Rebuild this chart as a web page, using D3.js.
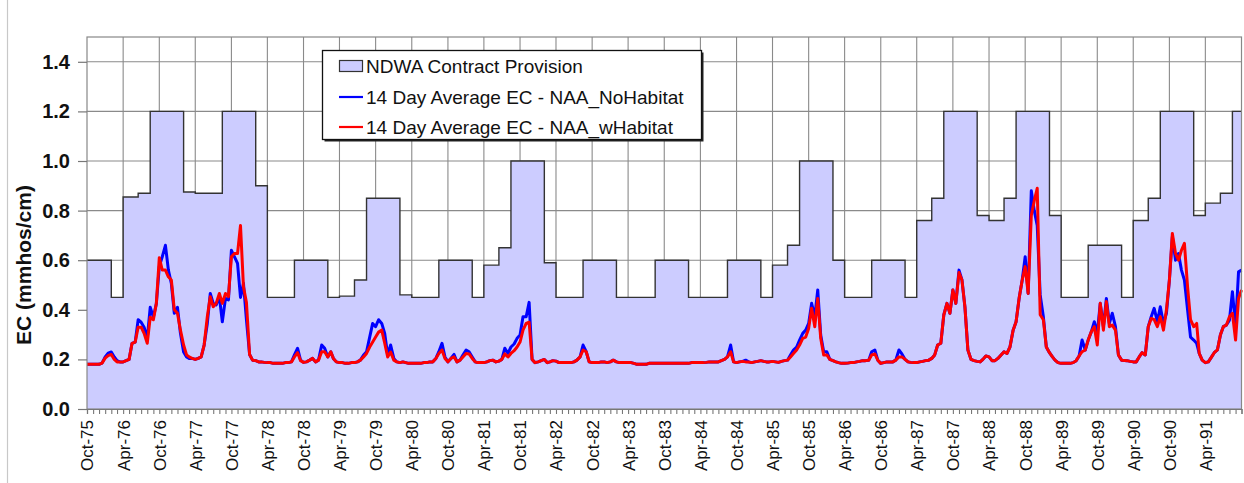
<!DOCTYPE html>
<html>
<head>
<meta charset="utf-8">
<script src="https://cdn.jsdelivr.net/npm/d3@7"></script>
<style>
  html, body { margin: 0; padding: 0; background: #fff; }
  svg { display: block; font-family: "Liberation Sans", Arial, sans-serif; }
</style>
</head>
<body>
<svg id="chart" width="1244" height="483"></svg>
<script>
// ---- Tick labels -------------------------------------------------------
const tickLabels = ["Oct-75","Apr-76","Oct-76","Apr-77","Oct-77","Apr-78","Oct-78","Apr-79",
  "Oct-79","Apr-80","Oct-80","Apr-81","Oct-81","Apr-82","Oct-82","Apr-83","Oct-83","Apr-84",
  "Oct-84","Apr-85","Oct-85","Apr-86","Oct-86","Apr-87","Oct-87","Apr-88","Oct-88","Apr-89",
  "Oct-89","Apr-90","Oct-90","Apr-91"];
const yTicks = [0, 0.2, 0.4, 0.6, 0.8, 1.0, 1.2, 1.4];

// ---- NDWA contract provision (mmhos/cm), per water year ----------------
// periods: Oct 1 - Jan 31, Feb 1 - Mar 31, Apr 1 - Jun 15, Jun 16 - Aug 15, Aug 16 - Sep 30
const periodStarts = [[-1, 9, 1], [0, 1, 1], [0, 3, 1], [0, 5, 16], [0, 7, 16]]; // [year offset, month, day]
const waterYears = [1976,1977,1978,1979,1980,1981,1982,1983,1984,1985,1986,1987,1988,1989,1990,1991];
const contractLimits = [
  [0.60, 0.45, 0.855, 0.87, 1.20],
  [1.20, 0.875, 0.87, 0.87, 1.20],
  [1.20, 0.90, 0.45, 0.45, 0.60],
  [0.60, 0.45, 0.455, 0.52, 0.85],
  [0.85, 0.46, 0.45, 0.45, 0.60],
  [0.60, 0.45, 0.58, 0.65, 1.00],
  [1.00, 0.59, 0.45, 0.45, 0.60],
  [0.60, 0.45, 0.45, 0.45, 0.60],
  [0.60, 0.45, 0.45, 0.45, 0.60],
  [0.60, 0.45, 0.58, 0.66, 1.00],
  [1.00, 0.60, 0.45, 0.45, 0.60],
  [0.60, 0.45, 0.76, 0.85, 1.20],
  [1.20, 0.78, 0.76, 0.85, 1.20],
  [1.20, 0.78, 0.45, 0.45, 0.66],
  [0.66, 0.45, 0.76, 0.85, 1.20],
  [1.20, 0.78, 0.83, 0.87, 1.20]
];

// ---- 14-day average EC, sampled on the 1st and 16th of each month -------
// starting Oct 1, 1975 and ending Oct 1, 1991 (one row per water year)
const ecNoHabitat = [
  0.18,0.18,0.18,0.18,0.18,0.185,0.21,0.225,0.23,0.21,0.195,0.19,0.19,0.195,0.2,0.265,0.27,0.36,0.35,0.33,0.285,0.41,0.37,0.425,
  0.575,0.614,0.66,0.56,0.506,0.386,0.41,0.305,0.23,0.21,0.204,0.204,0.2,0.204,0.21,0.258,0.345,0.466,0.426,0.42,0.453,0.352,0.446,0.44,
  0.64,0.614,0.587,0.45,0.507,0.36,0.22,0.197,0.195,0.19,0.19,0.188,0.187,0.187,0.184,0.184,0.184,0.184,0.187,0.187,0.19,0.218,0.245,0.197,
  0.188,0.19,0.197,0.204,0.19,0.197,0.258,0.245,0.21,0.231,0.204,0.19,0.187,0.187,0.184,0.184,0.187,0.187,0.19,0.197,0.218,0.231,0.29,0.345,
  0.332,0.36,0.345,0.305,0.218,0.258,0.204,0.19,0.187,0.19,0.187,0.184,0.184,0.184,0.184,0.184,0.187,0.187,0.19,0.19,0.204,0.231,0.265,0.21,
  0.19,0.204,0.22,0.19,0.197,0.218,0.238,0.231,0.21,0.19,0.187,0.187,0.187,0.19,0.195,0.197,0.19,0.193,0.2,0.245,0.224,0.25,0.262,0.285,
  0.298,0.372,0.372,0.43,0.2,0.187,0.19,0.195,0.2,0.187,0.19,0.195,0.193,0.187,0.187,0.187,0.187,0.187,0.19,0.197,0.21,0.258,0.231,0.19,
  0.187,0.187,0.187,0.19,0.19,0.187,0.19,0.197,0.19,0.187,0.187,0.187,0.187,0.187,0.184,0.18,0.18,0.18,0.18,0.184,0.184,0.184,0.184,0.184,
  0.184,0.184,0.184,0.184,0.184,0.184,0.184,0.184,0.184,0.187,0.187,0.187,0.187,0.187,0.188,0.19,0.19,0.19,0.19,0.195,0.2,0.21,0.258,0.19,
  0.187,0.19,0.192,0.197,0.19,0.187,0.19,0.192,0.195,0.192,0.19,0.19,0.192,0.19,0.188,0.192,0.195,0.197,0.218,0.238,0.25,0.278,0.305,0.318,
  0.345,0.426,0.372,0.48,0.298,0.231,0.231,0.2,0.195,0.19,0.187,0.184,0.184,0.185,0.187,0.187,0.19,0.192,0.195,0.195,0.197,0.231,0.238,0.197,
  0.184,0.187,0.19,0.19,0.19,0.197,0.238,0.222,0.2,0.19,0.188,0.187,0.187,0.19,0.192,0.195,0.197,0.204,0.218,0.258,0.265,0.379,0.426,0.386,
  0.48,0.426,0.56,0.52,0.412,0.238,0.2,0.195,0.192,0.19,0.2,0.214,0.21,0.195,0.195,0.204,0.218,0.231,0.224,0.25,0.318,0.352,0.45,0.52,
  0.614,0.466,0.88,0.80,0.74,0.46,0.372,0.25,0.227,0.21,0.197,0.187,0.184,0.184,0.184,0.184,0.187,0.195,0.214,0.278,0.238,0.278,0.312,0.352,
  0.305,0.426,0.332,0.446,0.345,0.386,0.332,0.218,0.197,0.196,0.195,0.192,0.19,0.19,0.21,0.227,0.218,0.332,0.372,0.406,0.352,0.412,0.345,0.386,
  0.52,0.695,0.60,0.627,0.56,0.52,0.40,0.29,0.278,0.265,0.224,0.197,0.187,0.19,0.208,0.227,0.238,0.298,0.332,0.338,0.358,0.473,0.332,0.553,
  0.56
];
const ecWithHabitat = [
  0.18,0.18,0.18,0.18,0.18,0.185,0.205,0.215,0.22,0.2,0.19,0.19,0.19,0.195,0.2,0.265,0.27,0.33,0.33,0.305,0.265,0.37,0.36,0.425,
  0.61,0.56,0.56,0.533,0.52,0.4,0.386,0.318,0.258,0.218,0.21,0.204,0.2,0.204,0.21,0.258,0.372,0.453,0.412,0.426,0.466,0.426,0.466,0.453,
  0.614,0.627,0.627,0.74,0.493,0.43,0.22,0.197,0.195,0.19,0.19,0.188,0.187,0.187,0.184,0.184,0.184,0.184,0.187,0.187,0.19,0.21,0.227,0.195,
  0.188,0.19,0.197,0.204,0.19,0.197,0.231,0.231,0.21,0.231,0.204,0.19,0.187,0.187,0.184,0.184,0.187,0.187,0.19,0.197,0.21,0.224,0.25,0.27,
  0.29,0.31,0.318,0.265,0.21,0.23,0.197,0.19,0.187,0.19,0.187,0.184,0.184,0.184,0.184,0.184,0.187,0.187,0.19,0.19,0.204,0.224,0.238,0.204,
  0.19,0.204,0.21,0.19,0.197,0.21,0.224,0.222,0.204,0.19,0.187,0.187,0.187,0.19,0.195,0.197,0.19,0.193,0.2,0.222,0.21,0.224,0.235,0.25,
  0.27,0.318,0.345,0.35,0.2,0.187,0.19,0.195,0.2,0.187,0.19,0.195,0.193,0.187,0.187,0.187,0.187,0.187,0.19,0.197,0.21,0.238,0.231,0.19,
  0.187,0.187,0.187,0.19,0.19,0.187,0.19,0.197,0.19,0.187,0.187,0.187,0.187,0.187,0.184,0.18,0.18,0.18,0.18,0.184,0.184,0.184,0.184,0.184,
  0.184,0.184,0.184,0.184,0.184,0.184,0.184,0.184,0.184,0.187,0.187,0.187,0.187,0.187,0.188,0.19,0.19,0.19,0.19,0.195,0.2,0.21,0.231,0.19,
  0.187,0.19,0.192,0.19,0.19,0.187,0.19,0.192,0.195,0.192,0.19,0.19,0.192,0.19,0.188,0.192,0.195,0.197,0.21,0.224,0.238,0.258,0.285,0.29,
  0.325,0.406,0.332,0.446,0.285,0.218,0.218,0.2,0.195,0.19,0.187,0.184,0.184,0.185,0.187,0.187,0.19,0.192,0.195,0.195,0.197,0.218,0.222,0.197,
  0.184,0.187,0.19,0.19,0.19,0.197,0.21,0.21,0.2,0.19,0.188,0.187,0.187,0.19,0.192,0.195,0.197,0.204,0.218,0.258,0.265,0.379,0.426,0.386,
  0.48,0.426,0.55,0.52,0.412,0.238,0.2,0.195,0.192,0.19,0.2,0.214,0.21,0.195,0.195,0.204,0.218,0.231,0.224,0.25,0.318,0.352,0.45,0.52,
  0.574,0.466,0.78,0.84,0.89,0.38,0.36,0.25,0.227,0.21,0.197,0.187,0.184,0.184,0.184,0.184,0.187,0.195,0.214,0.231,0.238,0.278,0.312,0.332,
  0.258,0.426,0.318,0.433,0.332,0.338,0.318,0.218,0.197,0.196,0.195,0.192,0.19,0.19,0.21,0.227,0.218,0.332,0.365,0.36,0.332,0.372,0.318,0.40,
  0.52,0.708,0.627,0.60,0.64,0.668,0.493,0.36,0.332,0.345,0.224,0.197,0.187,0.19,0.208,0.227,0.238,0.298,0.332,0.338,0.372,0.386,0.278,0.446,
  0.48
];

const legendLabels = ["NDWA Contract Provision",
  "14 Day Average EC - NAA_NoHabitat",
  "14 Day Average EC - NAA_wHabitat"];

// ---- Layout --------------------------------------------------------------
const W = 1244, H = 483;
const plot = { left: 87, right: 1241.5, top: 37, bottom: 409 };
const colors = { fill: "#ccccff", step: "#333", grid: "#8a8a8a", blue: "#0000ff", red: "#ff0000" };

const svg = d3.select("#chart");
const parseTick = d3.utcParse("%b-%y");
const tStart = new Date(Date.UTC(1975, 9, 1));
const tEnd = new Date(Date.UTC(1991, 9, 1));

const x = d3.scaleUtc().domain([tStart, tEnd]).range([plot.left, plot.right]);
const y = d3.scaleLinear().domain([0, 1.5]).range([plot.bottom, plot.top]);

// outer chart-area edge on the left
svg.append("line").attr("x1", 7.5).attr("x2", 7.5).attr("y1", 0).attr("y2", H)
  .attr("stroke", "#c8c8c8").attr("stroke-width", 1.2);

// plot background
svg.append("rect").attr("x", plot.left).attr("y", plot.top)
  .attr("width", plot.right - plot.left).attr("height", plot.bottom - plot.top)
  .attr("fill", "#fff");

// gridlines
const tickDates = tickLabels.map(parseTick);
const grid = svg.append("g").attr("stroke", colors.grid).attr("stroke-width", 1.1);
grid.selectAll("line.v").data(tickDates.slice(1)).join("line")
  .attr("x1", d => x(d)).attr("x2", d => x(d))
  .attr("y1", plot.top).attr("y2", plot.bottom);
grid.selectAll("line.h").data(yTicks.slice(1)).join("line")
  .attr("x1", plot.left).attr("x2", plot.right)
  .attr("y1", d => y(d)).attr("y2", d => y(d));

// contract provision steps
const steps = [];
waterYears.forEach((wy, i) => {
  periodStarts.forEach(([off, m, day], j) => {
    steps.push({ date: new Date(Date.UTC(wy + off, m, day)), value: contractLimits[i][j] });
  });
});
steps.push({ date: tEnd, value: contractLimits[contractLimits.length - 1][4] });

svg.append("path").datum(steps)
  .attr("fill", colors.fill)
  .attr("d", d3.area().curve(d3.curveStepAfter)
    .x(d => x(d.date)).y0(y(0)).y1(d => y(d.value)));
svg.append("path").datum(steps)
  .attr("fill", "none").attr("stroke", colors.step).attr("stroke-width", 1.4)
  .attr("d", d3.line().curve(d3.curveStepAfter)
    .x(d => x(d.date)).y(d => y(d.value)));

// EC series
const ecDate = i => new Date(Date.UTC(1975, 9 + Math.floor(i / 2), i % 2 ? 16 : 1));
const ecLine = d3.line().x((d, i) => x(ecDate(i))).y(d => y(d));
svg.append("path").datum(ecNoHabitat)
  .attr("fill", "none").attr("stroke", colors.blue).attr("stroke-width", 3)
  .attr("stroke-linejoin", "round").attr("d", ecLine);
svg.append("path").datum(ecWithHabitat)
  .attr("fill", "none").attr("stroke", colors.red).attr("stroke-width", 3)
  .attr("stroke-linejoin", "round").attr("d", ecLine);

// plot border
svg.append("rect").attr("x", plot.left).attr("y", plot.top)
  .attr("width", plot.right - plot.left).attr("height", plot.bottom - plot.top)
  .attr("fill", "none").attr("stroke", "#888").attr("stroke-width", 1.2);

// y axis
const yAxis = svg.append("g").attr("transform", `translate(${plot.left},0)`)
  .call(d3.axisLeft(y).tickValues(yTicks).tickFormat(d3.format(".1f")).tickSize(9).tickPadding(8));
yAxis.select(".domain").remove();
yAxis.selectAll(".tick line").attr("stroke", "#777").attr("stroke-width", 1.2);
yAxis.selectAll(".tick text").attr("font-size", 20).attr("font-weight", "bold")
  .attr("fill", "#111").attr("font-family", "Liberation Sans, Arial, sans-serif");

svg.append("text")
  .attr("transform", `translate(31,265) rotate(-90)`)
  .attr("text-anchor", "middle")
  .attr("font-size", 21).attr("font-weight", "bold").attr("fill", "#111")
  .text("EC (mmhos/cm)");

// x axis: monthly minor ticks, labelled every six months
const months = d3.utcMonth.range(tStart, d3.utcDay.offset(tEnd, 1));
const xMinor = svg.append("g").attr("transform", `translate(0,${plot.bottom})`)
  .call(d3.axisBottom(x).tickValues(months).tickSize(5).tickFormat(""));
xMinor.select(".domain").attr("stroke", "#777").attr("stroke-width", 1.2);
xMinor.selectAll(".tick line").attr("stroke", "#777").attr("stroke-width", 1.1);

const xAxis = svg.append("g").attr("transform", `translate(0,${plot.bottom})`)
  .call(d3.axisBottom(x).tickValues(tickDates).tickSize(0).tickFormat((d, i) => tickLabels[i]));
xAxis.select(".domain").remove();
xAxis.selectAll(".tick text")
  .attr("font-size", 17).attr("fill", "#111")
  .attr("font-family", "Liberation Sans, Arial, sans-serif")
  .attr("transform", "rotate(-90)")
  .attr("text-anchor", "end")
  .attr("dy", "0.35em").attr("x", -11).attr("y", 0);

// legend
const lg = svg.append("g").attr("transform", "translate(322,50)");
lg.append("rect").attr("x", 2.5).attr("y", 2.5).attr("width", 379).attr("height", 89).attr("fill", "#222");
lg.append("rect").attr("x", 0.5).attr("y", 0.5).attr("width", 379).attr("height", 89)
  .attr("fill", "#fff").attr("stroke", "#111").attr("stroke-width", 1.3);
const rows = [16, 47, 77];
lg.append("rect").attr("x", 17.5).attr("y", rows[0] - 5.5).attr("width", 23).attr("height", 11)
  .attr("fill", colors.fill).attr("stroke", "#333").attr("stroke-width", 1.2);
[colors.blue, colors.red].forEach((c, i) => {
  lg.append("line").attr("x1", 17).attr("x2", 41).attr("y1", rows[i + 1]).attr("y2", rows[i + 1])
    .attr("stroke", c).attr("stroke-width", 2.2);
});
legendLabels.forEach((t, i) => {
  lg.append("text").attr("x", 44).attr("y", rows[i]).attr("dy", "0.35em")
    .attr("font-size", 19).attr("fill", "#111").text(t);
});
</script>
</body>
</html>
